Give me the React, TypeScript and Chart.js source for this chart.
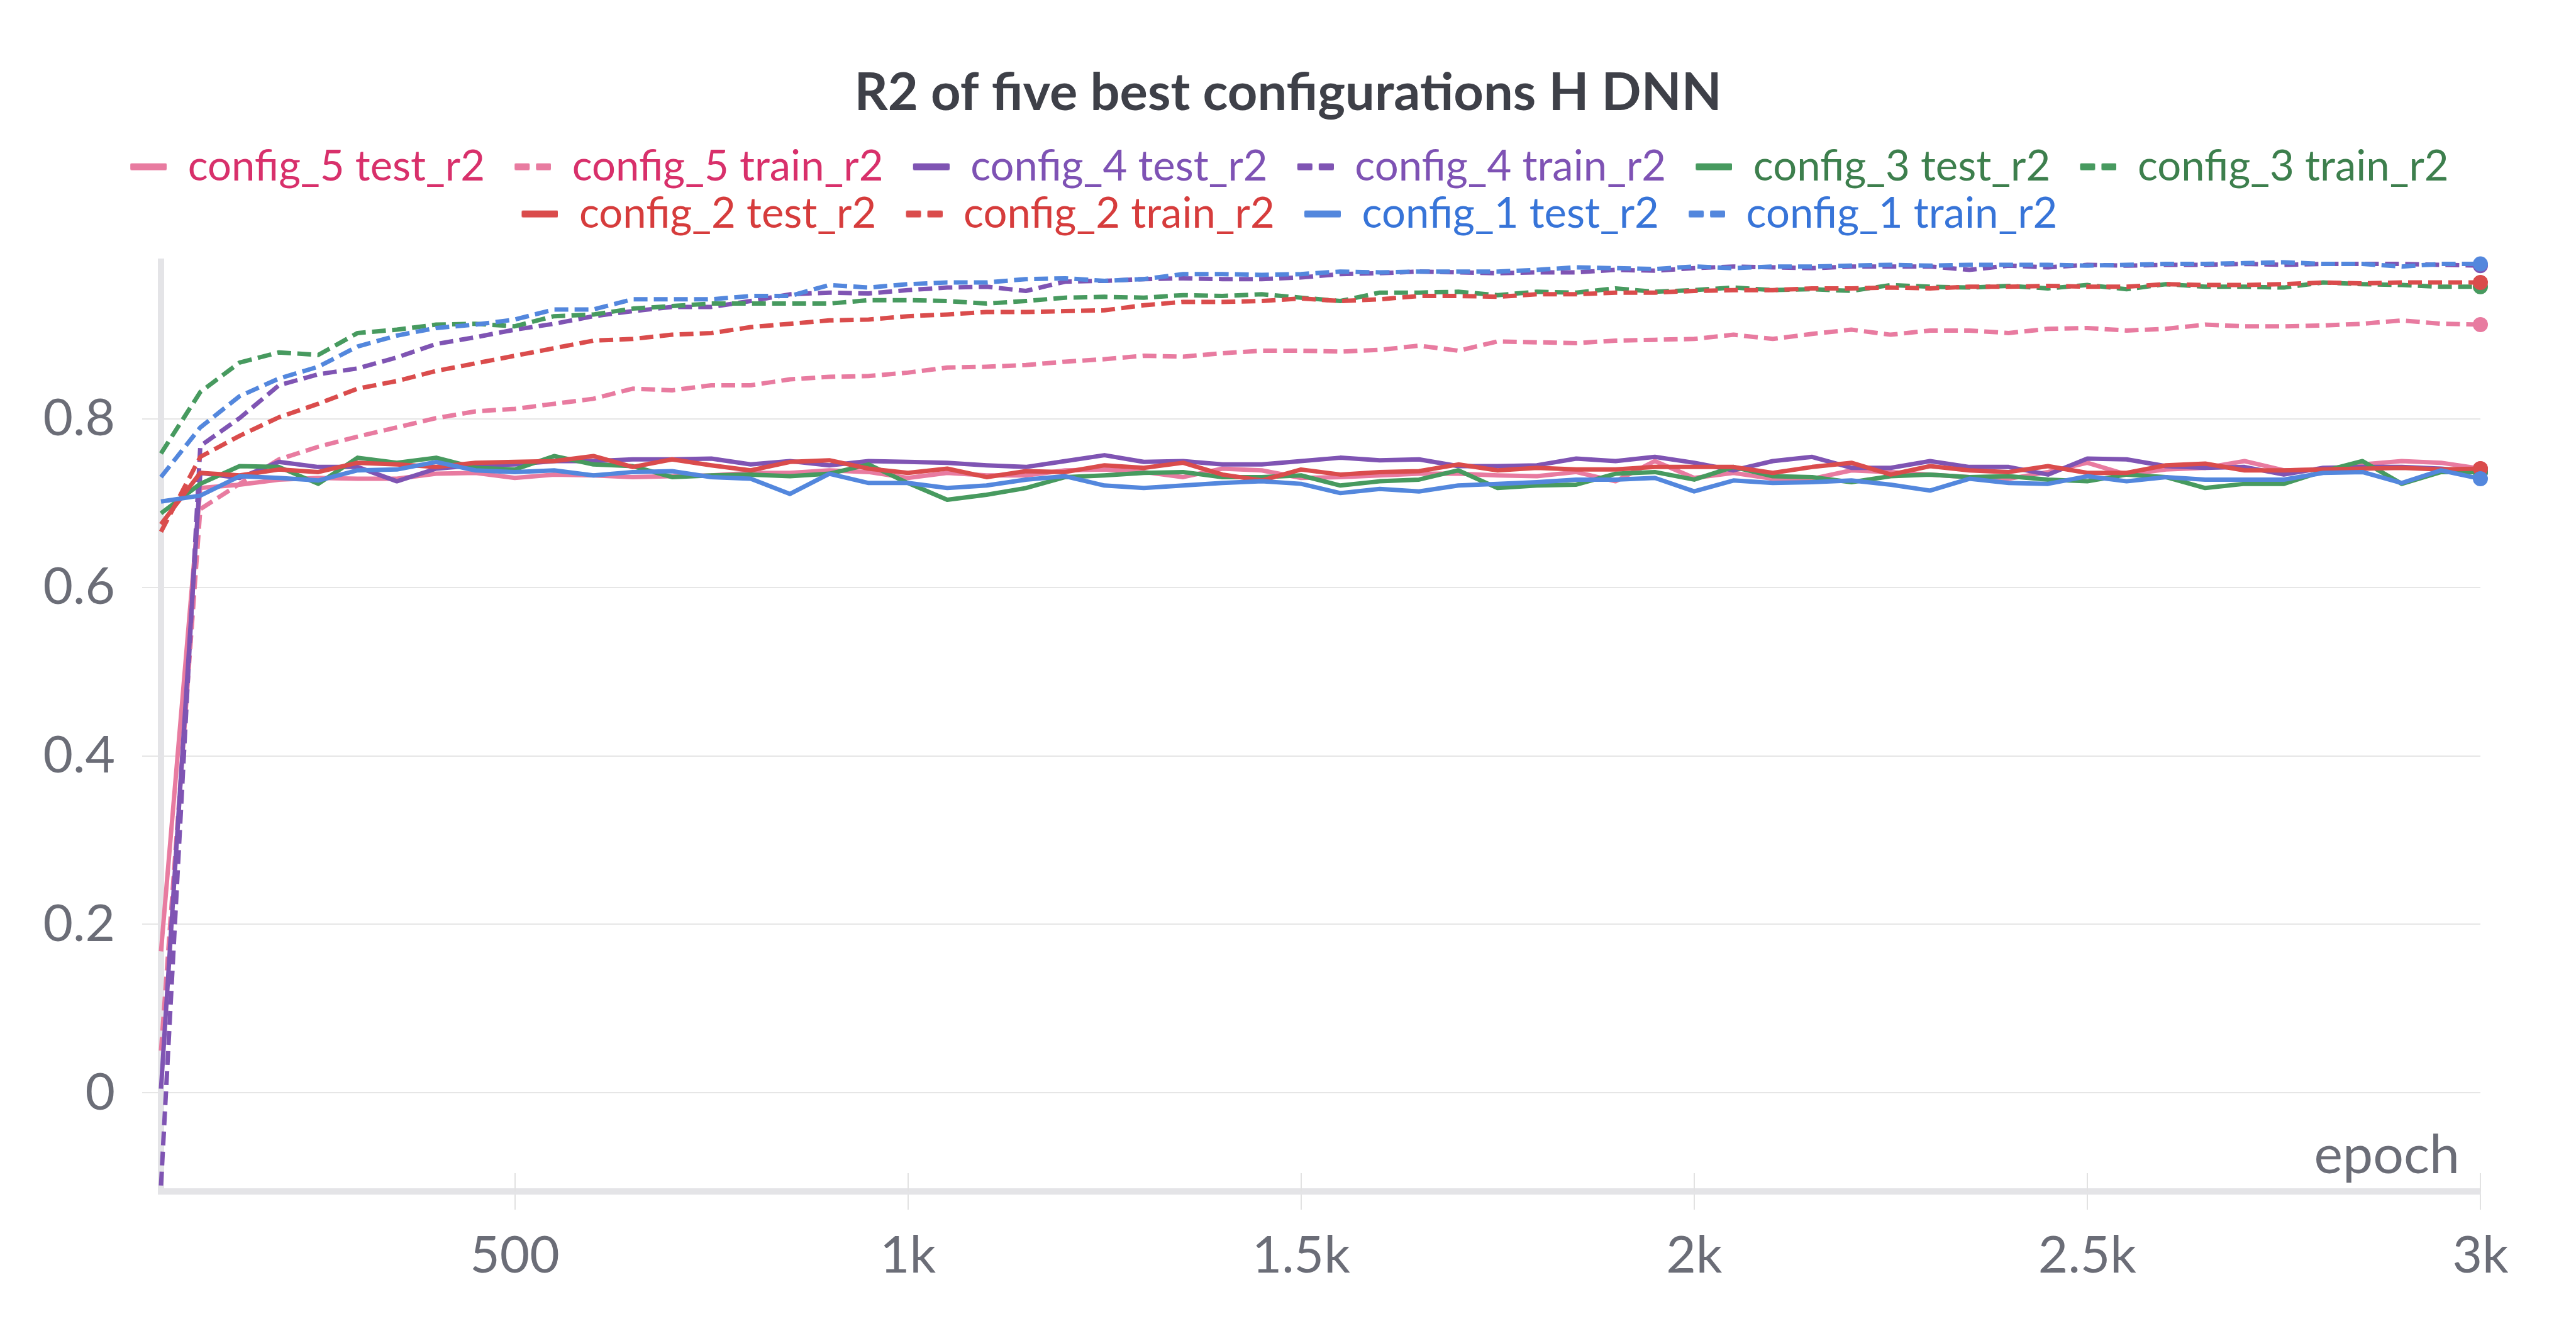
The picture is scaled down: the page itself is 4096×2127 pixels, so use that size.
import React, { useEffect, useRef } from 'react';
import { Chart, registerables } from 'chart.js';

Chart.register(...registerables);

const EPOCHS = [
  50, 100, 150, 200, 250, 300, 350, 400, 450, 500,
  550, 600, 650, 700, 750, 800, 850, 900, 950, 1000,
  1050, 1100, 1150, 1200, 1250, 1300, 1350, 1400, 1450, 1500,
  1550, 1600, 1650, 1700, 1750, 1800, 1850, 1900, 1950, 2000,
  2050, 2100, 2150, 2200, 2250, 2300, 2350, 2400, 2450, 2500,
  2550, 2600, 2650, 2700, 2750, 2800, 2850, 2900, 2950, 3000,
];

const CONFIG5_TEST = [
  0.168, 0.718, 0.722, 0.728, 0.730, 0.729, 0.729, 0.735, 0.736, 0.730,
  0.734, 0.733, 0.731, 0.732, 0.733, 0.736, 0.736, 0.739, 0.737, 0.730,
  0.736, 0.733, 0.733, 0.739, 0.740, 0.737, 0.731, 0.741, 0.739, 0.730,
  0.731, 0.733, 0.735, 0.735, 0.733, 0.732, 0.737, 0.726, 0.750, 0.730,
  0.736, 0.729, 0.729, 0.739, 0.737, 0.734, 0.731, 0.729, 0.737, 0.748,
  0.734, 0.740, 0.742, 0.750, 0.739, 0.740, 0.746, 0.750, 0.748, 0.741,
];
const CONFIG5_TRAIN = [
  0.050, 0.693, 0.723, 0.752, 0.767, 0.779, 0.790, 0.801, 0.809, 0.812,
  0.818, 0.824, 0.836, 0.834, 0.840, 0.840, 0.847, 0.850, 0.851, 0.855,
  0.861, 0.862, 0.864, 0.868, 0.871, 0.875, 0.874, 0.878, 0.881, 0.881,
  0.880, 0.882, 0.887, 0.881, 0.892, 0.891, 0.890, 0.893, 0.894, 0.895,
  0.900, 0.895, 0.901, 0.906, 0.900, 0.905, 0.905, 0.902, 0.907, 0.908,
  0.905, 0.907, 0.912, 0.910, 0.910, 0.911, 0.913, 0.917, 0.913, 0.912,
];
const CONFIG4_TEST = [
  0.005, 0.736, 0.730, 0.749, 0.743, 0.743, 0.726, 0.741, 0.745, 0.746,
  0.750, 0.750, 0.752, 0.752, 0.753, 0.746, 0.750, 0.745, 0.750, 0.749,
  0.748, 0.745, 0.743, 0.750, 0.757, 0.749, 0.750, 0.746, 0.746, 0.750,
  0.754, 0.751, 0.752, 0.744, 0.744, 0.745, 0.753, 0.750, 0.755, 0.748,
  0.739, 0.750, 0.755, 0.742, 0.742, 0.750, 0.743, 0.743, 0.734, 0.753,
  0.752, 0.744, 0.742, 0.743, 0.734, 0.742, 0.743, 0.743, 0.741, 0.737,
];
const CONFIG4_TRAIN = [
  -0.110, 0.768, 0.801, 0.840, 0.853, 0.860, 0.873, 0.889, 0.897, 0.906,
  0.913, 0.922, 0.928, 0.933, 0.933, 0.940, 0.948, 0.950, 0.949, 0.953,
  0.956, 0.957, 0.952, 0.963, 0.964, 0.966, 0.967, 0.966, 0.966, 0.968,
  0.972, 0.973, 0.975, 0.974, 0.973, 0.974, 0.974, 0.977, 0.976, 0.979,
  0.981, 0.980, 0.979, 0.981, 0.981, 0.981, 0.977, 0.982, 0.980, 0.983,
  0.982, 0.983, 0.983, 0.984, 0.983, 0.984, 0.984, 0.984, 0.983, 0.982,
];
const CONFIG3_TEST = [
  0.688, 0.723, 0.744, 0.743, 0.723, 0.754, 0.748, 0.754, 0.742, 0.740,
  0.756, 0.746, 0.744, 0.731, 0.733, 0.734, 0.732, 0.735, 0.746, 0.724,
  0.704, 0.710, 0.718, 0.731, 0.733, 0.736, 0.737, 0.731, 0.731, 0.733,
  0.721, 0.726, 0.728, 0.739, 0.718, 0.721, 0.722, 0.735, 0.737, 0.728,
  0.743, 0.732, 0.731, 0.725, 0.732, 0.734, 0.731, 0.732, 0.728, 0.726,
  0.734, 0.731, 0.718, 0.723, 0.723, 0.738, 0.750, 0.723, 0.737, 0.737,
];
const CONFIG3_TRAIN = [
  0.759, 0.832, 0.867, 0.879, 0.876, 0.902, 0.906, 0.912, 0.913, 0.910,
  0.922, 0.924, 0.931, 0.934, 0.937, 0.937, 0.937, 0.937, 0.941, 0.941,
  0.940, 0.937, 0.940, 0.944, 0.945, 0.944, 0.947, 0.946, 0.948, 0.944,
  0.940, 0.950, 0.950, 0.951, 0.947, 0.951, 0.950, 0.955, 0.951, 0.953,
  0.956, 0.953, 0.954, 0.952, 0.959, 0.957, 0.956, 0.958, 0.955, 0.959,
  0.954, 0.960, 0.957, 0.957, 0.956, 0.962, 0.960, 0.959, 0.957, 0.957,
];
const CONFIG2_TEST = [
  0.675, 0.736, 0.733, 0.740, 0.737, 0.748, 0.746, 0.743, 0.748, 0.749,
  0.750, 0.756, 0.743, 0.752, 0.745, 0.739, 0.749, 0.751, 0.741, 0.736,
  0.741, 0.731, 0.738, 0.737, 0.745, 0.742, 0.748, 0.734, 0.727, 0.740,
  0.734, 0.737, 0.738, 0.746, 0.739, 0.742, 0.740, 0.740, 0.743, 0.743,
  0.743, 0.736, 0.743, 0.748, 0.734, 0.744, 0.739, 0.737, 0.744, 0.736,
  0.736, 0.745, 0.747, 0.739, 0.739, 0.740, 0.741, 0.742, 0.740, 0.741,
];
const CONFIG2_TRAIN = [
  0.666, 0.755, 0.780, 0.802, 0.818, 0.836, 0.845, 0.857, 0.866, 0.875,
  0.884, 0.893, 0.895, 0.900, 0.902, 0.909, 0.913, 0.917, 0.918, 0.922,
  0.924, 0.927, 0.927, 0.928, 0.929, 0.935, 0.939, 0.939, 0.940, 0.943,
  0.940, 0.942, 0.946, 0.946, 0.945, 0.948, 0.948, 0.950, 0.950, 0.952,
  0.953, 0.953, 0.955, 0.955, 0.956, 0.955, 0.957, 0.957, 0.958, 0.957,
  0.957, 0.960, 0.959, 0.959, 0.960, 0.962, 0.961, 0.962, 0.962, 0.962,
];
const CONFIG1_TEST = [
  0.702, 0.709, 0.732, 0.730, 0.727, 0.739, 0.740, 0.749, 0.739, 0.737,
  0.739, 0.733, 0.737, 0.738, 0.731, 0.729, 0.711, 0.735, 0.724, 0.724,
  0.718, 0.721, 0.728, 0.732, 0.721, 0.718, 0.721, 0.724, 0.726, 0.723,
  0.712, 0.717, 0.714, 0.721, 0.723, 0.725, 0.728, 0.728, 0.730, 0.714,
  0.727, 0.724, 0.725, 0.727, 0.722, 0.715, 0.729, 0.724, 0.723, 0.732,
  0.726, 0.731, 0.728, 0.728, 0.728, 0.736, 0.737, 0.724, 0.739, 0.729,
];
const CONFIG1_TRAIN = [
  0.731, 0.790, 0.827, 0.848, 0.862, 0.886, 0.899, 0.908, 0.912, 0.918,
  0.930, 0.930, 0.942, 0.942, 0.942, 0.946, 0.946, 0.959, 0.956, 0.960,
  0.962, 0.962, 0.966, 0.967, 0.964, 0.966, 0.972, 0.972, 0.971, 0.972,
  0.975, 0.974, 0.975, 0.975, 0.975, 0.977, 0.980, 0.979, 0.978, 0.981,
  0.979, 0.981, 0.981, 0.982, 0.983, 0.982, 0.983, 0.983, 0.983, 0.982,
  0.983, 0.984, 0.984, 0.985, 0.986, 0.984, 0.984, 0.981, 0.984, 0.984,
];

const SERIES_LABELS = [
  'config_5 test_r2', 'config_5 train_r2',
  'config_4 test_r2', 'config_4 train_r2',
  'config_3 test_r2', 'config_3 train_r2',
  'config_2 test_r2', 'config_2 train_r2',
  'config_1 test_r2', 'config_1 train_r2',
];
const SERIES_VALUES = [
  CONFIG5_TEST, CONFIG5_TRAIN,
  CONFIG4_TEST, CONFIG4_TRAIN,
  CONFIG3_TEST, CONFIG3_TRAIN,
  CONFIG2_TEST, CONFIG2_TRAIN,
  CONFIG1_TEST, CONFIG1_TRAIN,
];
const SERIES_IS_TRAIN = [false, true, false, true, false, true, false, true, false, true];
const LINE_COLORS = [
  '#E87BA0', '#E87BA0',
  '#7F54B3', '#7F54B3',
  '#479A5F', '#479A5F',
  '#DA4C4C', '#DA4C4C',
  '#5387DD', '#5387DD',
];
const TEXT_COLORS = [
  '#D8306B', '#D8306B',
  '#7E52B4', '#7E52B4',
  '#3D7F4D', '#3D7F4D',
  '#D63C3C', '#D63C3C',
  '#3774D8', '#3774D8',
];

const X_TICKS = [500, 1000, 1500, 2000, 2500, 3000];
const X_TICK_LABELS = ['500', '1k', '1.5k', '2k', '2.5k', '3k'];
const Y_TICKS = [0, 0.2, 0.4, 0.6, 0.8];
const Y_TICK_LABELS = ['0', '0.2', '0.4', '0.6', '0.8'];

const TITLE = 'R2 of five best configurations H DNN';
const X_AXIS_NAME = 'epoch';

const FONT = 'Lato';
const TICK_COLOR = '#6B6D77';
const GRID_COLOR = '#E6E6E6';
const AXIS_COLOR = '#E4E4E7';
const LEGEND_FONT_SIZE = 67;

function roundRect(g: CanvasRenderingContext2D, x: number, y: number, w: number, h: number, r: number) {
  g.beginPath();
  g.moveTo(x + r, y);
  g.lineTo(x + w - r, y);
  g.quadraticCurveTo(x + w, y, x + w, y + r);
  g.lineTo(x + w, y + h - r);
  g.quadraticCurveTo(x + w, y + h, x + w - r, y + h);
  g.lineTo(x + r, y + h);
  g.quadraticCurveTo(x, y + h, x, y + h - r);
  g.lineTo(x, y + r);
  g.quadraticCurveTo(x, y, x + r, y);
  g.closePath();
  g.fill();
}

function makeMarker(color: string, dashed: boolean, leftPad: number): HTMLCanvasElement {
  const c = document.createElement('canvas');
  const mw = 58;
  const mh = 11;
  c.width = leftPad + mw;
  c.height = mh + 2;
  const g = c.getContext('2d') as CanvasRenderingContext2D;
  g.fillStyle = color;
  if (dashed) {
    roundRect(g, leftPad, 1, 24, mh, 2);
    roundRect(g, leftPad + 34, 1, 24, mh, 2);
  } else {
    roundRect(g, leftPad, 1, mw, mh, 2);
  }
  return c;
}

export default function App() {
  const canvasRef = useRef<HTMLCanvasElement | null>(null);

  useEffect(() => {
    const canvas = canvasRef.current;
    if (!canvas) return;

    const probe = document.createElement('canvas').getContext('2d') as CanvasRenderingContext2D;
    probe.font = `${LEGEND_FONT_SIZE}px ${FONT}`;
    const trailing = ' ';
    const spaceW = probe.measureText(trailing).width;
    const leftPad = Math.max(0, Math.round(39 - spaceW));
    const markers = SERIES_LABELS.map((_, i) => makeMarker(LINE_COLORS[i], SERIES_IS_TRAIN[i], leftPad));
    const markerW = leftPad + 58;

    const lastIdx = EPOCHS.length - 1;
    const n = SERIES_LABELS.length;
    const datasets = SERIES_LABELS.map((label, i) => ({
      label,
      data: EPOCHS.map((x, j) => ({ x, y: SERIES_VALUES[i][j] })),
      borderColor: LINE_COLORS[i],
      backgroundColor: LINE_COLORS[i],
      borderWidth: 7,
      borderDash: SERIES_IS_TRAIN[i] ? [22, 10] : [],
      borderCapStyle: 'butt' as const,
      borderJoinStyle: 'round' as const,
      pointRadius: (ctx: any) => (ctx.dataIndex === lastIdx ? 12 : 0),
      pointHoverRadius: 0,
      pointBorderWidth: 0,
      pointBackgroundColor: LINE_COLORS[i],
      tension: 0,
      fill: false,
      clip: false as const,
      yAxisID: 'y',
      xAxisID: 'x',
      order: n - 1 - i,
    }));

    const axisDecor = {
      id: 'axisDecor',
      beforeDatasetsDraw(chart: any) {
        const { ctx, chartArea, scales } = chart;
        const xs = scales.x;
        ctx.save();
        ctx.strokeStyle = '#E2E2E2';
        ctx.lineWidth = 2;
        for (const t of xs.ticks) {
          const px = Math.round(xs.getPixelForValue(t.value));
          ctx.beginPath();
          ctx.moveTo(px, chartArea.bottom - 29);
          ctx.lineTo(px, chartArea.bottom);
          ctx.stroke();
        }
        ctx.font = `86px ${FONT}`;
        ctx.fillStyle = TICK_COLOR;
        ctx.textAlign = 'right';
        ctx.textBaseline = 'alphabetic';
        ctx.fillText(X_AXIS_NAME, chartArea.right - 33, chartArea.bottom - 29);
        ctx.restore();
      },
    };

    const chart = new Chart(canvas, {
      type: 'line',
      data: { datasets: datasets as any },
      plugins: [axisDecor],
      options: {
        responsive: false,
        devicePixelRatio: 1,
        animation: false,
        events: [],
        layout: { padding: { left: 0, right: 0, top: 0, bottom: 0 } },
        plugins: {
          tooltip: { enabled: false },
          title: {
            display: true,
            text: TITLE,
            color: '#3E4048',
            font: { family: FONT, size: 83, weight: 'bold', lineHeight: 1.2 },
            padding: { top: 98, bottom: 26 },
          },
          subtitle: {
            display: true,
            text: '',
            position: 'top',
            weight: 500,
            font: { family: FONT, size: 32, lineHeight: 1 },
            padding: 0,
          },
          legend: {
            display: true,
            position: 'top',
            align: 'center',
            labels: {
              usePointStyle: true,
              pointStyleWidth: markerW,
              padding: 8,
              font: { family: FONT, size: LEGEND_FONT_SIZE },
              generateLabels: () =>
                SERIES_LABELS.map((label, i) => ({
                  text: label + trailing,
                  fontColor: TEXT_COLORS[i],
                  fillStyle: LINE_COLORS[i],
                  strokeStyle: LINE_COLORS[i],
                  lineWidth: 0,
                  pointStyle: markers[i] as any,
                  hidden: false,
                  datasetIndex: i,
                })) as any,
            },
          },
        },
        scales: {
          x: {
            type: 'linear',
            position: 'bottom',
            min: 50,
            max: 3000,
            afterFit: (scale: any) => {
              scale.height = 233;
            },
            afterBuildTicks: (scale: any) => {
              scale.ticks = X_TICKS.map((v) => ({ value: v }));
            },
            ticks: {
              callback: (v: any) => X_TICK_LABELS[X_TICKS.indexOf(Number(v))],
              color: TICK_COLOR,
              font: { family: FONT, size: 82, lineHeight: 1.2 },
              padding: 24,
              maxRotation: 0,
              autoSkip: false,
            },
            grid: {
              drawOnChartArea: false,
              drawTicks: true,
              tickLength: 29,
              color: '#E2E2E2',
              lineWidth: 2,
            },
            border: { display: true, width: 10, color: AXIS_COLOR },
          },
          y: {
            type: 'linear',
            position: 'left',
            min: -0.117,
            max: 0.987,
            afterFit: (scale: any) => {
              scale.width = 256;
            },
            afterBuildTicks: (scale: any) => {
              scale.ticks = Y_TICKS.map((v) => ({ value: v }));
            },
            ticks: {
              callback: (v: any) => Y_TICK_LABELS[Y_TICKS.indexOf(Number(v))],
              color: TICK_COLOR,
              font: { family: FONT, size: 82, lineHeight: 1.2 },
              padding: 43,
              autoSkip: false,
            },
            grid: {
              drawOnChartArea: true,
              drawTicks: true,
              tickLength: 30,
              color: GRID_COLOR,
              lineWidth: 2,
            },
            border: { display: true, width: 10, color: AXIS_COLOR },
          },
          yRightSpace: {
            type: 'linear',
            position: 'right',
            display: true,
            afterFit: (scale: any) => {
              scale.width = 152;
            },
            ticks: { display: false },
            grid: { display: false, drawTicks: false },
            border: { display: false },
          },
        },
      } as any,
    });

    return () => {
      chart.destroy();
    };
  }, []);

  return (
    <div
      style={{
        position: 'fixed',
        left: 0,
        top: 0,
        width: 4096,
        height: 2127,
        background: '#ffffff',
        overflow: 'hidden',
      }}
    >
      <canvas ref={canvasRef} width={4096} height={2127} style={{ display: 'block', width: 4096, height: 2127 }} />
    </div>
  );
}
